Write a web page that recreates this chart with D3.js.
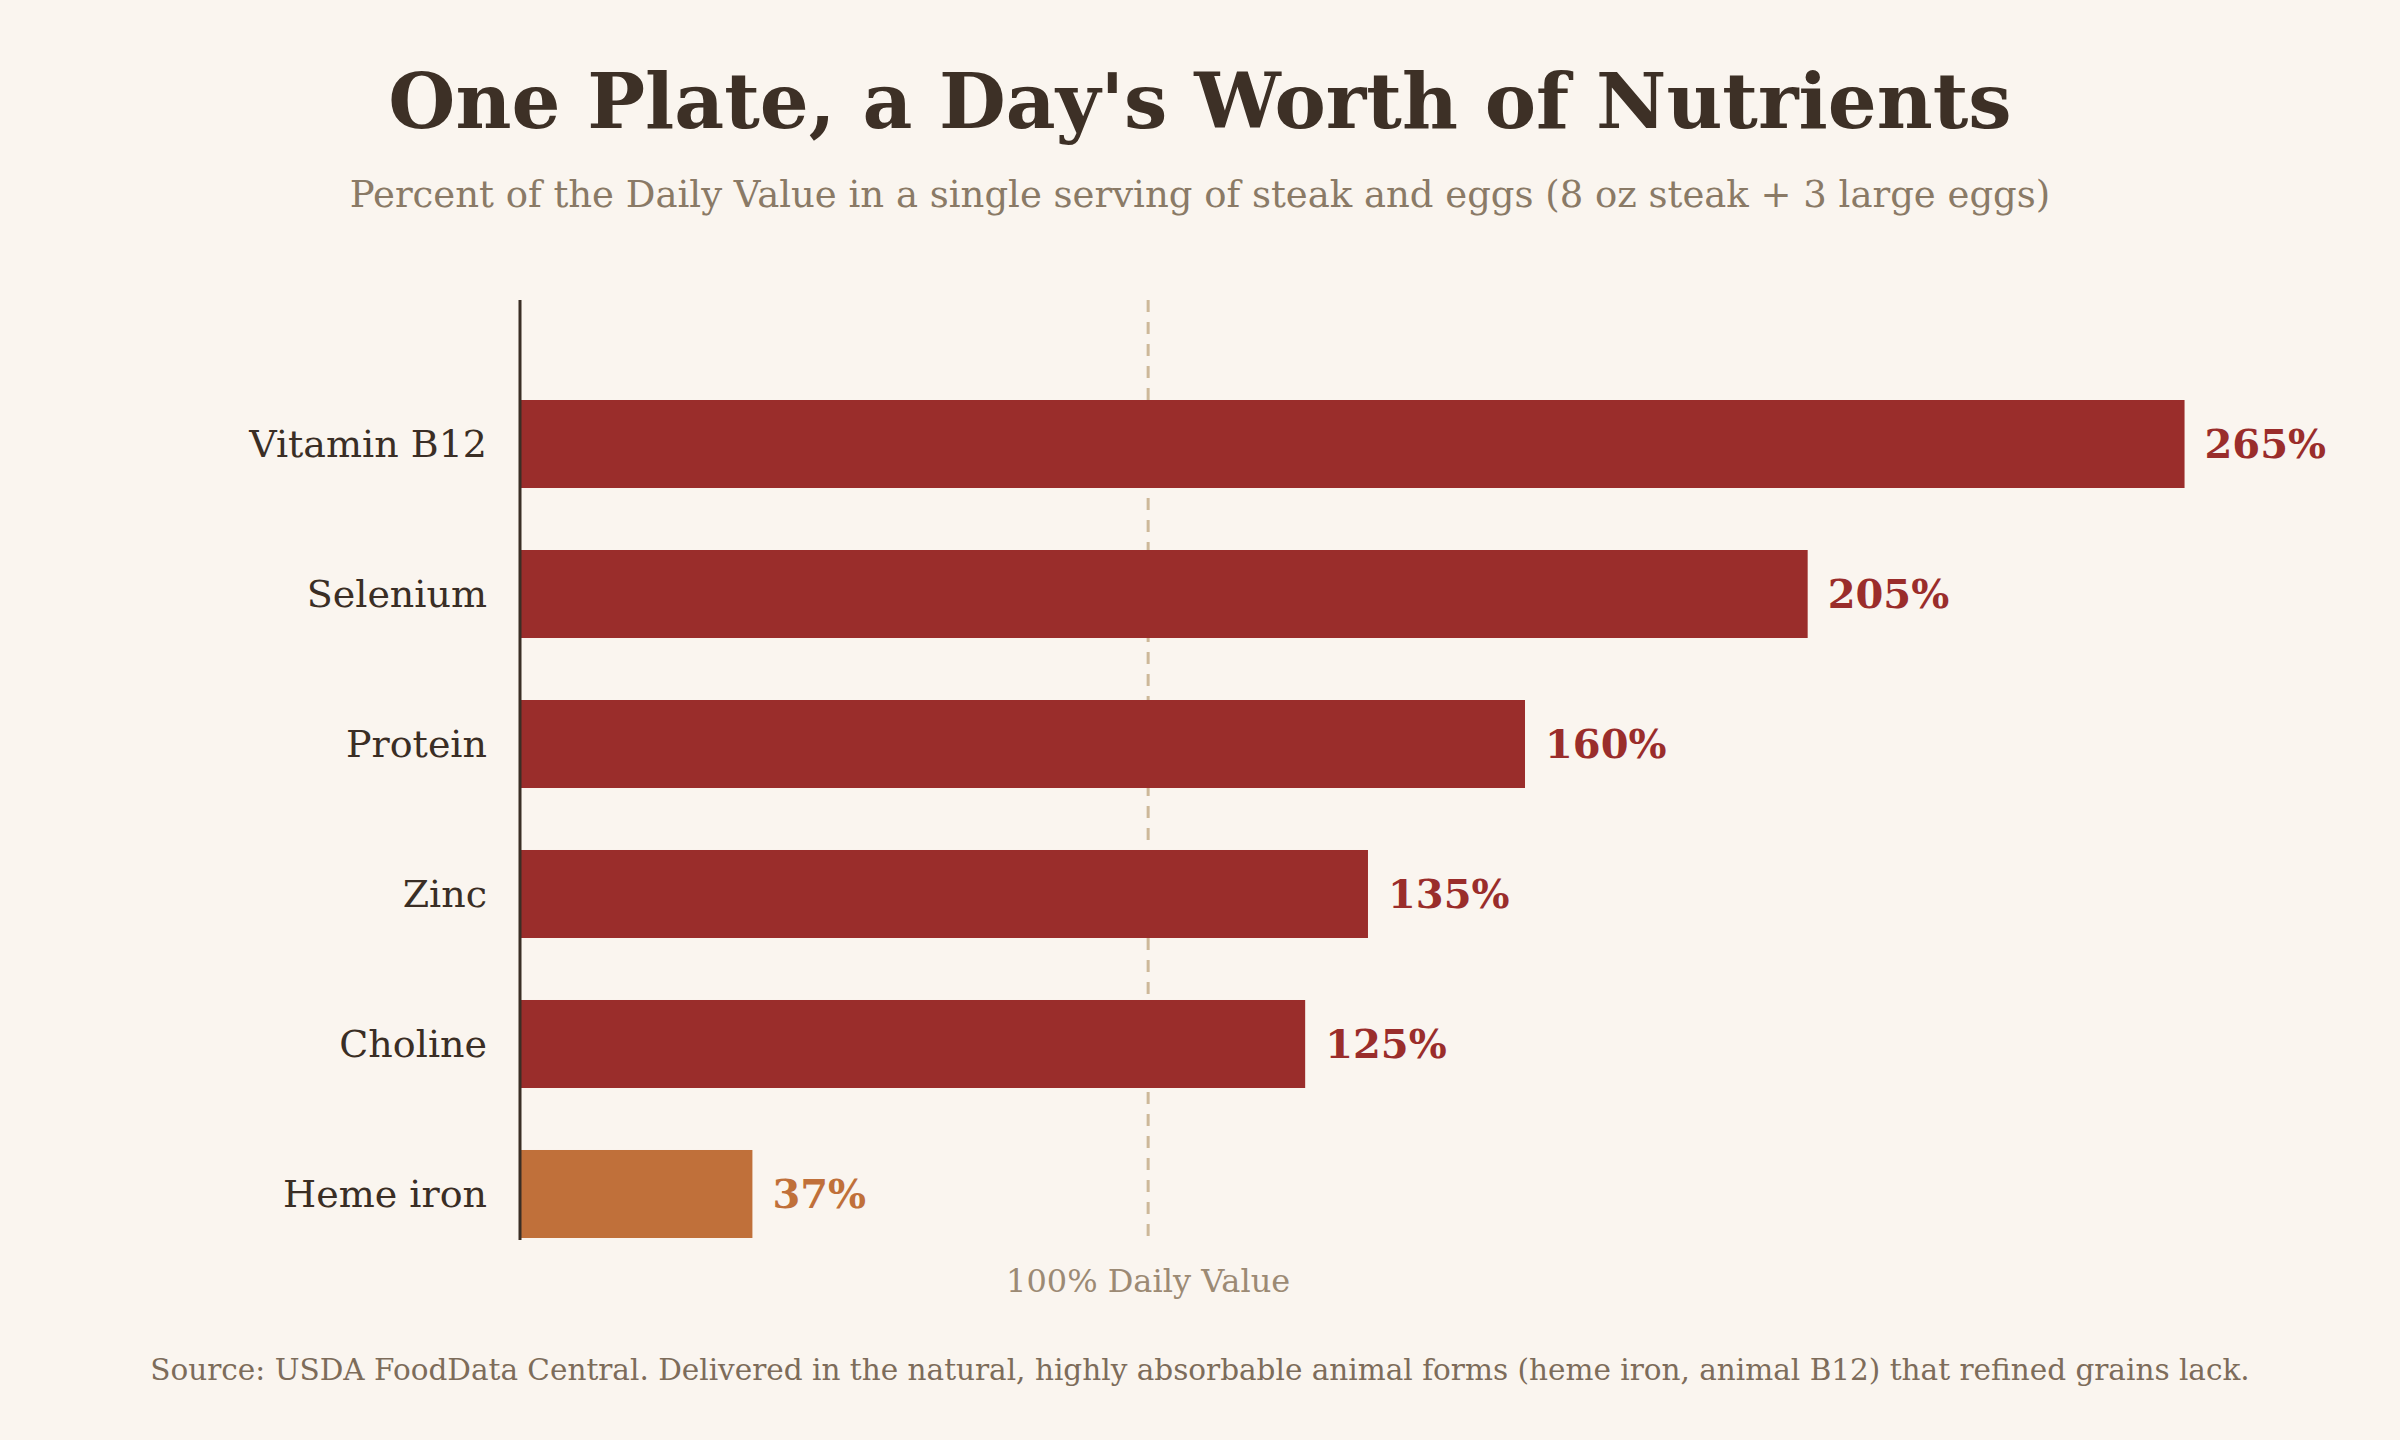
<!DOCTYPE html>
<meta charset="utf-8">
<style>
body { margin: 0; background: #faf5ef; }
svg { display: block; font-family: Georgia, "DejaVu Serif", serif; }
.title { font-size: 77px; font-weight: bold; fill: #3d3026; text-anchor: middle; }
.subtitle { font-size: 37px; fill: #8a7a66; text-anchor: middle; }
.cat { font-size: 38px; fill: #3a2e25; text-anchor: end; }
.val { font-size: 40px; font-weight: bold; }
.ref { font-size: 32px; fill: #9c8a74; text-anchor: middle; }
.source { font-size: 29.5px; fill: #7d6c5a; text-anchor: middle; }
</style>
<svg width="2400" height="1440"></svg>
<script src="https://d3js.org/d3.v7.min.js"></script>
<script>

var nutrients = ["Vitamin B12", "Selenium", "Protein", "Zinc", "Choline", "Heme iron"];
var percents = [265, 205, 160, 135, 125, 37];
var highlight = [false, false, false, false, false, true];

var svg = d3.select("svg"),
    width = +svg.attr("width"),
    height = +svg.attr("height");

svg.append("rect").attr("width", width).attr("height", height).attr("fill", "#faf5ef");

var red = "#9a2d2b", copper = "#c0703a";

var x = d3.scaleLinear()
    .domain([0, 265 * 1.1])
    .range([520, 2351]);

var y = d3.scaleBand()
    .domain(nutrients)
    .range([370, 1268])
    .paddingInner(0.4133)
    .paddingOuter(0.2);

svg.append("text").attr("class", "title")
    .attr("x", width / 2).attr("y", 128)
    .text("One Plate, a Day's Worth of Nutrients");

svg.append("text").attr("class", "subtitle")
    .attr("x", width / 2).attr("y", 207)
    .text("Percent of the Daily Value in a single serving of steak and eggs (8 oz steak + 3 large eggs)");

// 100% reference line, behind the bars
svg.append("line")
    .attr("x1", x(100)).attr("x2", x(100))
    .attr("y1", 300).attr("y2", 1240)
    .attr("stroke", "#cdb899")
    .attr("stroke-width", 3)
    .attr("stroke-dasharray", "12,10");

svg.append("text").attr("class", "ref")
    .attr("x", x(100)).attr("y", 1292)
    .text("100% Daily Value");

var rows = svg.append("g").selectAll("g")
    .data(nutrients)
    .enter().append("g");

rows.append("rect")
    .attr("x", x(0))
    .attr("y", function(d) { return y(d); })
    .attr("width", function(d, i) { return x(percents[i]) - x(0); })
    .attr("height", y.bandwidth())
    .attr("fill", function(d, i) { return highlight[i] ? copper : red; });

rows.append("text").attr("class", "val")
    .attr("x", function(d, i) { return x(percents[i]) + 20; })
    .attr("y", function(d) { return y(d) + y.bandwidth() / 2; })
    .attr("dy", "0.35em")
    .attr("fill", function(d, i) { return highlight[i] ? copper : red; })
    .text(function(d, i) { return percents[i] + "%"; });

rows.append("text").attr("class", "cat")
    .attr("x", 487)
    .attr("y", function(d) { return y(d) + y.bandwidth() / 2; })
    .attr("dy", "0.35em")
    .text(function(d) { return d; });

// left axis line
svg.append("line")
    .attr("x1", x(0)).attr("x2", x(0))
    .attr("y1", 300).attr("y2", 1240)
    .attr("stroke", "#3a2e25")
    .attr("stroke-width", 3);

svg.append("text").attr("class", "source")
    .attr("x", width / 2).attr("y", 1380)
    .text("Source: USDA FoodData Central. Delivered in the natural, highly absorbable animal forms (heme iron, animal B12) that refined grains lack.");

</script>
